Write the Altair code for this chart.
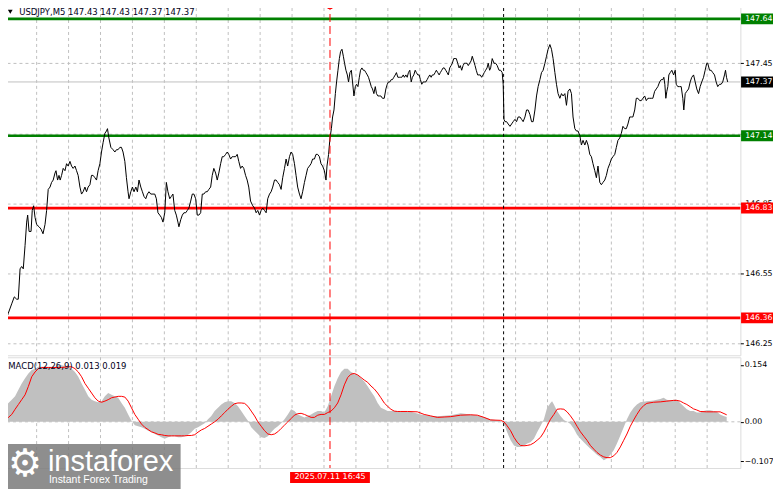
import altair as alt
import pandas as pd

# ---------------- data ----------------
symbol = "USDJPY,M5"
ohlc = [147.43, 147.43, 147.37, 147.37]
macd_name = "MACD(12,26,9)"
macd_last = [0.013, 0.019]

price_bar_a = [0.2,1.0,1.8,3.5,4.8,6.0,6.8,7.7,8.5,9.3,10.2,11.0,11.5,12.2,13.2,13.8,14.5,15.2,16.0,17.2,
    18.2,19.2,20.2,21.0,21.8,22.7,23.5,24.3,25.2,25.7,26.5,27.2,27.8,28.5,29.3,30.2,31.0,31.8,32.7,33.5,
    34.3,35.2,36.0,36.8,37.7,38.5,39.3,40.2,41.0,41.8,42.7,43.5,44.3,45.2,46.0,46.8,47.7,48.5,49.3,50.2,
    51.0,51.5,52.2,53.2,54.3,55.2,56.0,56.8,57.7,58.5,59.3,60.2,61.0,61.8,62.3,63.2,64.0,64.8,65.7,66.5,
    67.3,68.2,69.0,69.8,70.7,71.5,72.3,73.2,74.3,75.2,76.0,76.8,77.7,78.5,79.3,80.2,81.0,81.8,82.7,83.5,
    84.3,85.2,86.0,86.8,87.3,88.2,89.0,89.8,90.7,91.5,92.3,93.2,94.0,94.8,95.7,96.5,97.3,98.2,99.0,99.8,
    100.7,101.5,102.3,103.2,104.0,104.8,105.7,106.5,107.3,108.2,109.0,109.8,110.7,111.5,112.3,113.2,114.0,114.8,115.7,116.5,
    117.3,118.2,119.0,119.8,120.7,121.5,122.3,123.2]
price_close_a = [146.34,146.36,146.38,146.42,146.45,146.44,146.44,146.57,146.58,146.57,
    146.67,146.77,146.80,146.73,146.73,146.82,146.84,146.79,146.76,146.75,
    146.74,146.72,146.76,146.82,146.91,146.92,146.94,146.95,146.98,146.99,
    146.95,146.97,146.95,146.97,147.00,146.99,147.02,147.01,147.03,147.01,
    147.00,147.01,146.99,146.97,146.92,146.89,146.90,146.92,146.90,146.92,
    146.93,146.97,146.97,146.96,146.95,146.99,147.02,147.07,147.11,147.15,
    147.16,147.17,147.13,147.09,147.08,147.07,147.08,147.08,147.09,147.09,
    147.07,147.03,146.96,146.90,146.87,146.90,146.92,146.90,146.92,146.90,
    146.95,146.92,146.90,146.88,146.87,146.89,146.90,146.89,146.89,146.89,
    146.87,146.81,146.80,146.79,146.77,146.81,146.94,146.90,146.87,146.88,
    146.89,146.82,146.80,146.77,146.75,146.78,146.80,146.81,146.81,146.82,
    146.83,146.86,146.89,146.89,146.87,146.80,146.80,146.81,146.89,146.89,
    146.90,146.90,146.91,146.92,146.97,147.00,146.98,146.95,146.98,147.02,
    147.05,147.05,147.06,147.07,147.06,147.04,147.05,147.05,147.05,147.06,
    147.03,147.00,147.01,147.00,146.97,146.95,146.92,146.86]

price_bar_b = [124.3,125.2,126.0,126.8,127.7,128.5,129.3,130.2,131.0,131.8,
    132.7,133.5,134.3,135.2,136.0,136.8,137.7,138.5,139.3,140.2,
    141.0,141.8,142.7,143.5,144.3,145.2,146.0,146.8,147.7,148.5,
    149.3,150.2,151.0,151.8,152.7,153.5,154.3,155.2,156.0,156.8,
    157.7,158.5,159.3,160.2,161.0,161.5,162.3,163.0,163.7,164.3,
    165.0,165.7,166.3,167.0,167.7,168.3,169.0,169.7,170.3,171.0,
    171.7,172.3,173.0,173.7,174.3,175.0,175.7,176.3,177.0,177.7,
    178.3,179.0,179.7,180.3,181.0,181.7,182.3,183.0,183.7,184.3,
    185.0,185.7,186.3,187.0,187.7,188.5,189.3,190.2,191.0,191.7,
    192.3,193.0,193.7,194.3,195.0,195.7,196.3,197.0,197.7,198.3,
    199.0,199.7,200.3,201.0,201.7,202.3,203.0,203.7,204.3,205.0,
    205.7,206.3,207.0,207.7,208.3,209.0,209.7,210.3,211.0,211.7,
    212.3,213.0,213.7,214.3,215.0,215.7,216.3,217.0,217.7,218.3,
    219.0,219.7,220.3,221.0,221.7,222.3,223.0,223.7,224.3,225.0,
    225.7,226.3,227.0,227.7,228.3,229.0,229.7,230.3,231.0,231.7,
    232.3,233.0,233.7,234.3,235.0,235.7,236.3,237.0,237.7,238.3,
    239.0,239.7,240.3,241.0,241.7,242.3,243.0]
price_close_b = [146.84,146.83,146.81,146.82,146.80,146.82,146.83,146.82,146.81,146.87,
    146.89,146.90,146.92,146.95,146.95,146.94,146.93,146.91,146.96,147.00,
    147.04,147.01,147.05,147.07,147.06,147.02,146.97,146.92,146.89,146.87,
    146.90,146.94,146.97,147.00,147.01,147.02,147.04,147.04,147.06,147.06,
    147.05,147.02,147.01,146.99,146.95,147.01,147.06,147.13,147.17,147.22,
    147.25,147.32,147.37,147.42,147.47,147.50,147.51,147.48,147.45,147.42,
    147.40,147.37,147.41,147.42,147.37,147.31,147.35,147.36,147.35,147.39,
    147.42,147.43,147.42,147.42,147.41,147.40,147.39,147.37,147.35,147.34,
    147.32,147.35,147.32,147.31,147.31,147.31,147.30,147.30,147.34,147.36,
    147.37,147.37,147.38,147.38,147.39,147.40,147.41,147.39,147.39,147.39,
    147.39,147.40,147.39,147.40,147.39,147.41,147.42,147.37,147.39,147.40,
    147.42,147.41,147.40,147.40,147.38,147.36,147.37,147.37,147.37,147.38,
    147.39,147.40,147.39,147.40,147.40,147.41,147.42,147.41,147.40,147.41,
    147.42,147.43,147.43,147.42,147.41,147.40,147.43,147.44,147.45,147.47,
    147.47,147.47,147.45,147.43,147.44,147.42,147.44,147.45,147.45,147.45,
    147.44,147.45,147.46,147.48,147.46,147.44,147.42,147.40,147.40,147.40,
    147.39,147.40,147.41,147.42,147.43,147.45,147.42]

price_bar_c = [243.5,244.3,245.2,246.0,246.8,247.7,248.5,249.3,249.8,250.2,
    250.7,251.5,252.3,253.2,254.0,254.8,255.7,256.5,257.3,258.2,
    259.0,259.8,260.7,261.5,262.3,263.2,264.0,264.8,265.7,266.5,
    267.3,268.2,269.0,269.8,270.7,271.5,272.3,273.2,274.0,274.8,
    275.7,276.5,277.3,278.2,279.0,279.8,280.7,281.5,282.3,283.2,
    284.0,284.8,285.7,286.5,287.3,288.2,289.0,289.8,290.7,291.5,
    292.3,293.2,294.0,294.8,295.7,296.5,297.3,298.2,299.0,299.8,
    300.7,301.5,302.3,303.2,304.0,304.8,305.7,306.5,307.3,308.2,
    309.0,309.8,310.7,311.5,312.3,313.2,314.0,314.8,315.7,316.5,
    317.3,318.2,319.0,319.8,320.7,321.5,322.3,323.2,324.0,324.8,
    325.7,326.5,327.3,328.2,329.0,329.8,330.3,330.8,331.3,331.8,
    332.3,332.8,333.5,334.3,335.2,336.0,336.5,337.3,338.2,339.0,
    339.8,340.3,341.0,341.8,342.7,343.5,344.3,345.2,346.0,346.8,
    347.7,348.5,349.3,350.2,351.0,351.8,352.3,353.2,354.0,354.8,
    355.7,356.5,357.3,358.2,359.0,359.8,360.7,361.2,361.7,362.3]
price_close_c = [147.43,147.47,147.45,147.45,147.44,147.42,147.42,147.41,147.36,147.21,
    147.20,147.20,147.19,147.18,147.19,147.20,147.21,147.20,147.22,147.22,
    147.21,147.20,147.22,147.25,147.25,147.23,147.20,147.20,147.25,147.31,
    147.35,147.38,147.41,147.42,147.45,147.48,147.51,147.53,147.51,147.47,
    147.41,147.36,147.32,147.30,147.32,147.31,147.32,147.27,147.33,147.34,
    147.32,147.22,147.17,147.16,147.16,147.14,147.10,147.12,147.10,147.12,
    147.10,147.06,147.05,147.02,146.99,146.96,147.01,146.94,146.93,146.94,
    146.95,146.97,147.00,147.02,147.04,147.05,147.06,147.09,147.12,147.13,
    147.15,147.18,147.17,147.17,147.19,147.22,147.22,147.22,147.25,147.30,
    147.30,147.29,147.29,147.30,147.31,147.29,147.30,147.30,147.30,147.30,
    147.33,147.34,147.35,147.37,147.38,147.38,147.39,147.36,147.30,147.33,
    147.35,147.40,147.41,147.42,147.40,147.42,147.36,147.35,147.35,147.35,
    147.30,147.25,147.32,147.33,147.34,147.37,147.39,147.40,147.37,147.34,
    147.32,147.35,147.37,147.39,147.42,147.45,147.45,147.42,147.42,147.41,
    147.40,147.37,147.35,147.36,147.36,147.37,147.40,147.42,147.39,147.37]

# MACD histogram (main) and signal, first part sampled every 10/6 bar
macd_main_a = [0.038,0.051,0.060,0.069,0.087,0.104,0.118,0.131,0.140,0.144,
    0.149,0.149,0.149,0.149,0.149,0.149,0.153,0.153,0.151,0.149,
    0.144,0.135,0.122,0.104,0.087,0.069,0.060,0.056,0.053,0.056,
    0.069,0.078,0.073,0.069,0.065,0.051,0.038,0.020,0.003,-0.009,
    -0.012,-0.015,-0.019,-0.024,-0.028,-0.033,-0.037,-0.042,-0.046,-0.042,
    -0.039,-0.039,-0.042,-0.042,-0.039,-0.035,-0.028,-0.019,-0.015,-0.009,
    -0.004,0.007,0.016,0.029,0.038,0.047,0.053,0.056,0.056,0.051,
    0.042,0.029,0.016,0.003,-0.015,-0.024,-0.033,-0.042,-0.044,-0.039,
    -0.028,-0.019,-0.012,-0.004,0.007,0.020,0.034,0.029,0.020,0.016,
    0.012,0.016,0.020,0.025,0.029,0.029,0.025,0.042,0.069,0.096,
    0.118,0.135,0.144,0.144,0.135,0.131,0.127,0.118,0.109,0.096,
    0.082,0.069,0.051,0.038,0.034,0.029,0.029,0.029,0.029]
macd_signal_a = [0.003,0.012,0.020,0.034,0.047,0.060,0.073,0.096,0.122,0.135,
    0.144,0.147,0.147,0.147,0.147,0.147,0.147,0.147,0.148,0.149,
    0.149,0.144,0.135,0.122,0.104,0.091,0.078,0.065,0.056,0.053,
    0.056,0.060,0.065,0.067,0.069,0.069,0.067,0.056,0.038,0.020,
    0.007,-0.006,-0.015,-0.021,-0.027,-0.030,-0.034,-0.035,-0.037,-0.038,
    -0.038,-0.038,-0.038,-0.038,-0.038,-0.037,-0.037,-0.035,-0.028,-0.022,
    -0.018,-0.012,-0.006,0.000,0.007,0.016,0.025,0.034,0.042,0.049,
    0.051,0.051,0.050,0.042,0.029,0.016,0.000,-0.012,-0.024,-0.033,
    -0.035,-0.033,-0.027,-0.018,-0.009,0.000,0.009,0.018,0.022,0.023,
    0.020,0.016,0.012,0.012,0.018,0.020,0.020,0.025,0.029,0.038,
    0.051,0.073,0.100,0.120,0.129,0.131,0.127,0.120,0.113,0.107,
    0.097,0.089,0.078,0.065,0.051,0.042,0.034,0.029,0.028]
macd_bar_a = [round(0.2 + i * 10 / 6, 2) for i in range(len(macd_main_a))]

macd_main_bar_b = [198.5,203.5,208.5,213.5,218.5,223.5,228.5,233.5,238.5,243.5,248.5,
    250.2,251.8,253.5,255.2,256.8,258.5,260.2,261.8,263.5,265.2,
    266.8,268.5,270.2,271.8,273.5,274.3,275.2,276.8,278.5,280.2,
    281.8,283.5,285.2,286.8,288.5,290.2,291.8,293.5,295.2,296.8,
    298.5,300.2,301.8,303.5,305.2,306.8,308.5,310.2,311.8,313.5,
    315.2,316.8,318.5,321.8,325.2,328.5,330.2,331.8,333.5,335.2,
    336.8,338.5,340.2,341.8,343.5,345.2,346.8,348.5,350.2,351.8,
    353.5,355.2,356.8,358.5,360.2,361.8]
macd_main_b = [0.029,0.027,0.020,0.016,0.016,0.018,0.023,0.020,0.016,0.007,0.003,
    -0.006,-0.028,-0.050,-0.064,-0.068,-0.068,-0.065,-0.059,-0.055,-0.046,
    -0.028,-0.011,0.007,0.038,0.051,0.056,0.047,0.029,0.016,0.005,
    0.000,-0.006,-0.019,-0.035,-0.046,-0.055,-0.064,-0.073,-0.081,-0.089,
    -0.095,-0.104,-0.099,-0.089,-0.077,-0.059,-0.037,-0.015,0.007,0.025,
    0.038,0.047,0.053,0.056,0.058,0.062,0.065,0.060,0.058,0.060,
    0.060,0.051,0.042,0.034,0.029,0.029,0.025,0.025,0.029,0.031,
    0.031,0.029,0.027,0.020,0.016,0.013]
macd_signal_bar_b = [198.5,201.8,206.8,210.2,213.5,216.8,220.2,223.5,228.5,233.5,
    236.8,240.2,243.5,248.5,250.2,251.8,253.5,255.2,256.8,258.5,
    260.2,261.8,263.5,265.2,266.8,268.5,270.2,271.8,273.5,275.2,
    276.8,278.5,280.2,281.8,283.5,285.2,286.8,288.5,290.2,291.8,
    293.5,295.2,296.8,298.5,300.2,301.8,303.5,305.2,306.8,308.5,
    310.2,311.8,313.5,315.2,316.8,318.5,320.2,321.8,325.2,328.5,
    331.8,335.2,336.8,338.5,340.2,341.8,343.5,345.2,346.8,348.5,
    351.8,355.2,358.5,361.8]
macd_signal_b = [0.028,0.028,0.027,0.020,0.016,0.012,0.013,0.014,0.018,0.019,
    0.018,0.012,0.005,0.004,0.000,-0.011,-0.024,-0.042,-0.055,-0.064,
    -0.065,-0.064,-0.062,-0.057,-0.050,-0.042,-0.028,-0.011,0.007,0.020,
    0.034,0.035,0.034,0.027,0.016,0.003,-0.012,-0.027,-0.039,-0.050,
    -0.064,-0.074,-0.083,-0.090,-0.095,-0.097,-0.097,-0.092,-0.083,-0.068,
    -0.050,-0.033,-0.012,0.005,0.020,0.034,0.044,0.050,0.053,0.054,
    0.056,0.058,0.058,0.056,0.051,0.047,0.041,0.035,0.032,0.028,
    0.027,0.027,0.027,0.019]

level_price = [147.64, 147.14, 146.83, 146.36]
level_color = ["#008000", "#008000", "#ff0000", "#ff0000"]
last_price = 147.37

price_ticks = [147.60, 147.45, 147.30, 147.15, 147.00, 146.85, 146.70, 146.55, 146.40, 146.25]
macd_ticks = [0.154, 0.0, -0.107]
grid_bars = [16, 32, 48, 64, 80, 96, 112, 128, 144, 160, 176, 192, 208, 224, 240, 256,
             272, 288, 304, 320, 336, 352]
label_bars = [0, 32, 64, 96, 128, 160, 192, 224, 256, 288, 320, 352]
label_texts = ["11 Jul 2025", "11 Jul 05:50", "11 Jul 08:30", "11 Jul 11:10", "11 Jul 13:50",
               "11 Jul 16:30", "11 Jul 19:10", "11 Jul 21:50", "14 Jul 00:35", "14 Jul 03:15",
               "14 Jul 05:55", "14 Jul 08:35"]
cursor_bar = 163
cursor_text = "2025.07.11 16:45"
day_sep_bar = 250
brand = "instaforex"
brand_sub = "Instant Forex Trading"

# ---------------- layout ----------------
W = 739
H1 = 354
H2 = 111
FONT = "DejaVu Sans"
LBL = 7.8
GRID = "#c0c0c0"
xs = alt.Scale(domain=[-0.85, 368.65], nice=False, zero=False)
ys = alt.Scale(domain=[146.200, 147.712], nice=False, zero=False)
ms = alt.Scale(domain=[-0.1251, 0.1748], nice=False, zero=False)
X = alt.X("bar:Q", scale=xs, axis=None)

df_price = pd.DataFrame({"bar": price_bar_a + price_bar_b + price_bar_c,
                         "close": price_close_a + price_close_b + price_close_c})
df_grid = pd.DataFrame({"bar": grid_bars})
df_lvl = pd.DataFrame({"price": level_price + [last_price],
                       "color": level_color + ["#000000"],
                       "label": [f"{p:.2f}" for p in level_price + [last_price]]})
df_main = pd.DataFrame({"bar": macd_bar_a + macd_main_bar_b, "v": macd_main_a + macd_main_b})
df_sig = pd.DataFrame({"bar": macd_bar_a + macd_signal_bar_b, "v": macd_signal_a + macd_signal_b})
df_cur = pd.DataFrame({"bar": [cursor_bar], "t": [cursor_text]})
df_sep = pd.DataFrame({"bar": [day_sep_bar]})

box_shape = "M-1,-0.3H1V0.3H-1Z"
tbox_shape = "M-1,-0.1375H1V0.1375H-1Z"

gridv = alt.Chart(df_grid).mark_rule(color=GRID, strokeDash=[3, 3], strokeWidth=1).encode(x=X)

# main panel
hidden_lbl = [147.15]
price_axis = alt.Axis(orient="right", values=price_ticks, grid=True,
                      gridDash=[3, 3], gridColor=GRID, tickSize=3, labelPadding=1.5,
                      domain=False, title=None, labelFont=FONT, labelFontSize=LBL,
                      labelColor="black", tickColor="black", labelOverlap=False,
                      labelExpr="abs(datum.value - %s) < 0.001 ? '' : format(datum.value, '.2f')"
                                % hidden_lbl[0])
cur_line = alt.Chart(pd.DataFrame({"price": [last_price]})).mark_rule(color=GRID, strokeWidth=1).encode(
    y=alt.Y("price:Q", scale=ys, axis=price_axis))
lvl_lines = alt.Chart(df_lvl.iloc[:4]).mark_rule(strokeWidth=2.6).encode(
    y=alt.Y("price:Q", scale=ys), color=alt.Color("color:N", scale=None))
price_line = alt.Chart(df_price).mark_line(color="black", strokeWidth=1).encode(
    x=X, y=alt.Y("close:Q", scale=ys))
red_v = alt.Chart(df_cur).mark_rule(color="#ff0000", strokeDash=[8, 4], strokeWidth=1).encode(x=X)
blk_v = alt.Chart(df_sep).mark_rule(color="black", strokeDash=[3, 3], strokeWidth=1).encode(x=X)
red_sq = alt.Chart(df_cur).mark_point(shape="square", filled=False, size=18, color="#ff0000",
                                      strokeWidth=1, opacity=1).encode(x=X, y=alt.value(4.3))
boxes = alt.Chart(df_lvl).mark_point(shape=box_shape, filled=True, size=1340, opacity=1,
                                     clip=False).encode(
    x=alt.value(758), y=alt.Y("price:Q", scale=ys), color=alt.Color("color:N", scale=None))
box_txt = alt.Chart(df_lvl).mark_text(align="left", baseline="middle", color="white", font=FONT,
                                      fontSize=LBL, clip=False).encode(
    x=alt.value(743.8), y=alt.Y("price:Q", scale=ys), text="label:N")
head = alt.Chart(pd.DataFrame({"t": [symbol + "  " + " ".join(f"{v:.2f}" for v in ohlc)]})
                 ).mark_text(align="left", baseline="middle", font=FONT, fontSize=8.5,
                             color="#000020").encode(x=alt.value(16.3), y=alt.value(10), text="t:N")
tri = alt.Chart(pd.DataFrame({"t": [symbol]})).mark_point(
    shape="triangle-down", filled=True, size=22, color="black", opacity=1).encode(
    x=alt.value(7.3), y=alt.value(9.8))

main = alt.layer(gridv, cur_line, lvl_lines, price_line, red_v, blk_v, red_sq, boxes, box_txt, tri, head
                 ).properties(width=W, height=H1)

# MACD panel
x_axis = alt.Axis(orient="bottom", values=label_bars, tickSize=4, labelAlign="left",
                  labelBaseline="top", labelPadding=1, labelFlush=False, labelOverlap=False,
                  labelBound=False, grid=False, domain=False, title=None, labelFont=FONT,
                  labelFontSize=8, labelColor="black", tickColor="black",
                  labelExpr="[" + ",".join("'" + t + "'" for t in label_texts) + "][indexof(["
                            + ",".join(str(b) for b in label_bars) + "], datum.value)]")
m_axis = alt.Axis(orient="right", values=macd_ticks, grid=False, tickSize=3, labelPadding=1,
                  domain=False, title=None, labelFont=FONT, labelFontSize=LBL, labelColor="black",
                  tickColor="black", labelOverlap=False,
                  labelExpr="datum.value == 0 ? '0.00' : format(datum.value, '.3f')")
zero = alt.Chart(pd.DataFrame({"v": [0.0]})).mark_rule(color=GRID, strokeDash=[3, 3]).encode(
    y=alt.Y("v:Q", scale=ms, axis=m_axis))
hist = alt.Chart(df_main).mark_area(color="#c0c0c0", opacity=1).encode(
    x=alt.X("bar:Q", scale=xs, axis=x_axis), y=alt.Y("v:Q", scale=ms), y2=alt.datum(0))
sig = alt.Chart(df_sig).mark_line(color="#ff0000", strokeWidth=1).encode(
    x=X, y=alt.Y("v:Q", scale=ms))
mtitle = alt.Chart(pd.DataFrame({"t": [f"{macd_name} {macd_last[0]:.3f} {macd_last[1]:.3f}"]})
                   ).mark_text(align="left", baseline="middle", font=FONT, fontSize=8.5,
                               color="#000020").encode(x=alt.value(5.3), y=alt.value(8.7), text="t:N")
tbox = alt.Chart(df_cur).mark_point(shape=tbox_shape, filled=True, size=6400, color="#ff0000",
                                    opacity=1, clip=False).encode(x=X, y=alt.value(120.5))
ttxt = alt.Chart(df_cur).mark_text(align="center", baseline="middle", color="white", font=FONT,
                                   fontSize=8, clip=False).encode(x=X, y=alt.value(120.5), text="t:N")
logo_box = alt.Chart(pd.DataFrame({"t": [brand]})).mark_rect(color="#7a7a7a", opacity=0.85,
                                                            clip=False).encode(
    x=alt.value(-2), x2=alt.value(178), y=alt.value(87), y2=alt.value(132))
logo_gear = alt.Chart(pd.DataFrame({"t": ["\u2699"]})).mark_text(
    align="center", baseline="middle", font=FONT, fontSize=38, color="white", clip=False).encode(
    x=alt.value(22), y=alt.value(108), text="t:N")
logo_txt = alt.Chart(pd.DataFrame({"t": [brand]})).mark_text(
    align="left", baseline="alphabetic", font="Liberation Sans", fontSize=29, color="white",
    clip=False).encode(x=alt.value(45), y=alt.value(114), text="t:N")
logo_sub = alt.Chart(pd.DataFrame({"t": [brand_sub]})).mark_text(
    align="left", baseline="alphabetic", font="Liberation Sans", fontSize=10.5, color="white",
    clip=False).encode(x=alt.value(46), y=alt.value(126), text="t:N")

macd = alt.layer(gridv, zero, hist, sig, red_v, blk_v, mtitle, tbox, ttxt,
                 logo_box, logo_gear, logo_txt, logo_sub).properties(width=W, height=H2)

chart = alt.vconcat(main, macd, spacing=2, bounds="flush").properties(
    padding={"left": -8, "top": -7.5, "right": -5.3, "bottom": 0},
).configure_view(stroke="black", strokeWidth=1, fill="white").configure(background="white")

chart.save("out.html", embed_options={"renderer": "svg", "actions": False})
